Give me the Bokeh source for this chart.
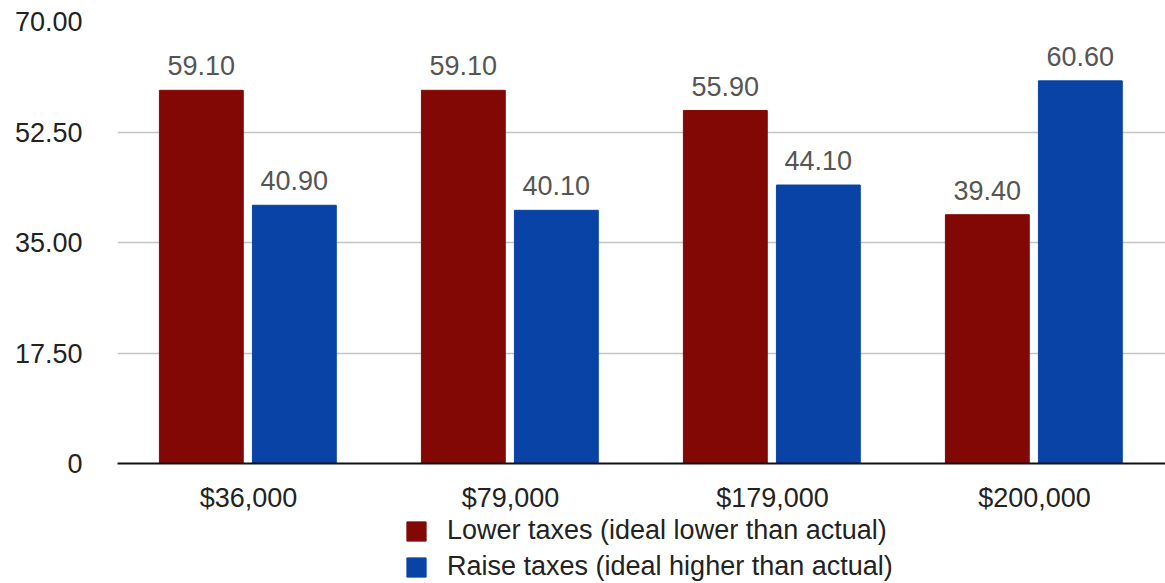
from bokeh.plotting import figure
from bokeh.layouts import column
from bokeh.models import ColumnDataSource, FactorRange, Range1d, FixedTicker, LabelSet, Legend, LegendItem
from bokeh.core.properties import value
from bokeh.transform import dodge
from bokeh.embed import file_html
from bokeh.resources import INLINE

categories = ["$36,000", "$79,000", "$179,000", "$200,000"]
lower_taxes = [59.10, 59.10, 55.90, 39.40]
raise_taxes = [40.90, 40.10, 44.10, 60.60]
y_ticks = [0, 17.5, 35, 52.5, 70]
y_tick_labels = ["0", "17.50", "35.00", "52.50", "70.00"]
series_names = ["Lower taxes (ideal lower than actual)", "Raise taxes (ideal higher than actual)"]

RED = "#820806"
BLUE = "#0943A6"
FONT = "Liberation Sans"

src = ColumnDataSource(dict(
    cat=categories,
    lower=lower_taxes,
    raise_=raise_taxes,
    lower_txt=["%.2f" % v for v in lower_taxes],
    raise_txt=["%.2f" % v for v in raise_taxes],
))

p = figure(width=1165, height=515, output_backend="svg", toolbar_location=None,
           x_range=FactorRange(factors=categories, range_padding=0),
           y_range=Range1d(0, 70))
p.min_border_left = 117
p.min_border_right = 0
p.min_border_top = 21
p.min_border_bottom = 52
p.outline_line_color = None
p.background_fill_color = "white"
p.border_fill_color = "white"

p.vbar(x=dodge("cat", -0.18, range=p.x_range), top="lower", width=0.32, source=src,
       fill_color=RED, line_color=RED, line_width=1)
p.vbar(x=dodge("cat", 0.175, range=p.x_range), top="raise_", width=0.32, source=src,
       fill_color=BLUE, line_color=BLUE, line_width=1)

for col, txt, off in (("lower", "lower_txt", -0.18), ("raise_", "raise_txt", 0.175)):
    lab = LabelSet(x=dodge("cat", off, range=p.x_range), y=col, text=txt,
                   source=src, text_align="center", text_baseline="alphabetic", y_offset=15,
                   text_font=value(FONT), text_font_size="27px", text_color="#555555")
    p.add_layout(lab)

# y axis
p.yaxis.ticker = FixedTicker(ticks=y_ticks)
p.yaxis.major_label_overrides = {t: s for t, s in zip(y_ticks, y_tick_labels)}
p.yaxis.axis_line_color = None
p.yaxis.major_tick_line_color = None
p.yaxis.minor_tick_line_color = None
p.yaxis.major_label_standoff = 29
p.yaxis.major_label_text_font = FONT
p.yaxis.major_label_text_font_size = "27px"
p.yaxis.major_label_text_color = "#222222"

p.ygrid.ticker = FixedTicker(ticks=y_ticks[1:])
p.ygrid.grid_line_color = "#c4c4c4"
p.ygrid.grid_line_width = 1.5
p.xgrid.grid_line_color = None

# x axis
p.xaxis.axis_line_color = "#111111"
p.xaxis.axis_line_width = 2
p.xaxis.major_tick_line_color = None
p.xaxis.minor_tick_line_color = None
p.xaxis.major_label_standoff = 13
p.xaxis.major_label_text_font = FONT
p.xaxis.major_label_text_font_size = "27px"
p.xaxis.major_label_text_color = "#222222"

# legend strip below the chart (its bars lie outside its visible y range)
lg = figure(width=1165, height=68, output_backend="svg", toolbar_location=None,
            x_range=FactorRange(factors=categories, range_padding=0), y_range=Range1d(100, 101),
            x_axis_type=None, y_axis_type=None)
lg.min_border_left = 0
lg.min_border_right = 0
lg.min_border_top = 0
lg.min_border_bottom = 0
lg.outline_line_color = None
lg.xgrid.grid_line_color = None
lg.ygrid.grid_line_color = None
d1 = lg.vbar(x="cat", top="lower", width=0.3, source=src, fill_color=RED, line_color=RED)
d2 = lg.vbar(x="cat", top="raise_", width=0.3, source=src, fill_color=BLUE, line_color=BLUE)

legend = Legend(items=[LegendItem(label=series_names[0], renderers=[d1], index=0),
                       LegendItem(label=series_names[1], renderers=[d2], index=0)],
                location=(287, 1), orientation="vertical",
                label_text_font=FONT, label_text_font_size="27px", label_text_color="#222222",
                glyph_width=24, glyph_height=24, label_height=30, spacing=5,
                padding=0, margin=0, border_line_color=None, background_fill_alpha=0,
                label_standoff=19)
lg.add_layout(legend, "center")

layout = column(p, lg, spacing=0)
open("out.html", "w").write(file_html(layout, INLINE))
